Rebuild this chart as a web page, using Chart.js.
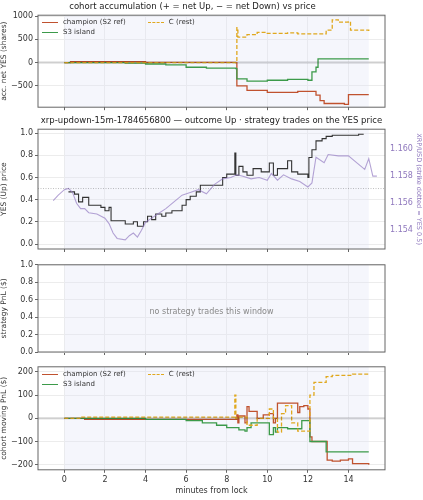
<!DOCTYPE html>
<html>
<head>
<meta charset="utf-8">
<script src="https://cdn.jsdelivr.net/npm/chart.js@4"></script>
<style>
  body { margin: 0; background: #fff; font-family: "DejaVu Sans", sans-serif; }
  #wrap { position: relative; width: 423px; height: 500px; }
  .panel { position: absolute; left: 0; width: 423px; }
  .legend { position: absolute; font-size: 7px; color: #333; line-height: 10px; }
  .legend span.sw { display: inline-block; width: 16px; height: 0; vertical-align: middle; margin-right: 5px; }
  .note { position: absolute; font-size: 8px; color: #888; width: 347px; text-align: center; }
</style>
</head>
<body>
<div id="wrap">
  <div class="panel" style="top:0;height:114px"><canvas id="c1"></canvas></div>
  <div class="panel" style="top:114px;height:144px"><canvas id="c2"></canvas></div>
  <div class="panel" style="top:258px;height:102px"><canvas id="c3"></canvas></div>
  <div class="panel" style="top:360px;height:140px"><canvas id="c4"></canvas></div>
  <div class="legend" style="left:42px;top:17px">
    <div><span class="sw" style="border-top:1.5px solid #c0522f"></span>champion (S2 ref)<span style="display:inline-block;width:22px"></span><span class="sw" style="border-top:1.5px dashed #e0a81e"></span>C (rest)</div>
    <div><span class="sw" style="border-top:1.5px solid #3c9a4a"></span>S3 island</div>
  </div>
  <div class="legend" style="left:42px;top:369px">
    <div><span class="sw" style="border-top:1.5px solid #c0522f"></span>champion (S2 ref)<span style="display:inline-block;width:22px"></span><span class="sw" style="border-top:1.5px dashed #e0a81e"></span>C (rest)</div>
    <div><span class="sw" style="border-top:1.5px solid #3c9a4a"></span>S3 island</div>
  </div>
  <div class="note" style="left:38px;top:307px">no strategy trades this window</div>
</div>
<script>
// 共通のX範囲（ロックからの分）
const xMin = -1.3, xMax = 15.8;
const xTicks = [0, 2, 4, 6, 8, 10, 12, 14];

// パネル1: 累積ネットYES（shares）
const champShareT = [0, 0.3, 4, 8.45, 8.5, 9, 10, 11.5, 12.4, 12.6, 12.8, 13.8, 14.0, 15];
const champShares = [0, 20, 5, 0, -500, -600, -640, -620, -700, -820, -880, -900, -690, -690];
const s3ShareT = [0, 3, 4, 5, 6, 7, 8.45, 8.5, 9, 10, 11, 12, 12.2, 12.4, 12.5, 15];
const s3Shares = [0, -10, -30, -50, -100, -120, -130, -350, -400, -380, -360, -380, -200, -100, 80, 80];
const cShareT = [0, 8.45, 8.5, 8.55, 9, 9.5, 10, 11, 11.5, 12.7, 12.9, 13.2, 13.5, 14, 14.1, 15];
const cShares = [0, 0, 750, 550, 600, 650, 630, 640, 620, 620, 700, 920, 870, 880, 700, 680];

// パネル2: YES価格とXRP/USD
const yesT = [0.2, 0.5, 0.7, 0.9, 1.2, 1.8, 2.0, 2.2, 2.3, 3.0, 3.4, 3.6, 3.9, 4.1, 4.3, 4.5, 4.8, 5.0, 5.3, 5.8, 6.0, 6.2, 6.5, 6.7, 7.8, 8.0, 8.4, 8.45, 8.6, 8.8, 9.0, 9.3, 9.7, 10.1, 10.3, 10.5, 11.0, 11.2, 11.5, 12.0, 12.05, 12.2, 12.4, 12.7, 12.9, 13.2, 14.0, 14.5, 14.75];
const yesPrice = [0.47, 0.45, 0.38, 0.42, 0.35, 0.33, 0.30, 0.33, 0.21, 0.18, 0.20, 0.16, 0.20, 0.25, 0.22, 0.27, 0.25, 0.28, 0.30, 0.35, 0.40, 0.43, 0.47, 0.53, 0.60, 0.63, 0.82, 0.62, 0.70, 0.65, 0.62, 0.68, 0.65, 0.73, 0.62, 0.68, 0.75, 0.65, 0.63, 0.60, 0.78, 0.85, 0.93, 0.95, 0.97, 0.98, 0.98, 0.99, 0.99];
const xrpT = [-0.55, -0.3, 0, 0.2, 0.4, 0.6, 0.8, 1.0, 1.2, 1.6, 2.0, 2.2, 2.4, 2.6, 3.0, 3.2, 3.4, 3.6, 3.8, 4.0, 4.3, 4.6, 5.0, 5.4, 5.8, 6.2, 6.6, 7.0, 7.4, 7.8, 8.2, 8.5, 8.8, 9.2, 9.6, 10.0, 10.2, 10.5, 10.8, 11.2, 11.6, 12.0, 12.2, 12.4, 12.8, 13.0, 13.5, 14.0, 14.4, 14.8, 15.0, 15.2, 15.4];
const xrpPrice = [1.1562, 1.1566, 1.1570, 1.1571, 1.1568, 1.1560, 1.1556, 1.1556, 1.1553, 1.1552, 1.1549, 1.1545, 1.1538, 1.1534, 1.1533, 1.1536, 1.1538, 1.1535, 1.1540, 1.1546, 1.1549, 1.1552, 1.1556, 1.1561, 1.1566, 1.1568, 1.1570, 1.1567, 1.1574, 1.1578, 1.1579, 1.1581, 1.1580, 1.1578, 1.1579, 1.1577, 1.1582, 1.1577, 1.1581, 1.1578, 1.1576, 1.1572, 1.1575, 1.1594, 1.1590, 1.1596, 1.1595, 1.1595, 1.1590, 1.1585, 1.1593, 1.1580, 1.1580];
const strikeYes = 0.5;

// パネル4: コホートの含み損益（$）
const champPnlT = [0, 1, 8.45, 8.5, 8.55, 8.6, 8.9, 9.0, 9.1, 9.5, 9.8, 10.1, 10.3, 10.4, 10.5, 11.5, 11.6, 11.8, 12.0, 12.1, 12.2, 12.95, 13.2, 13.6, 14.0, 14.2, 15];
const champPnl = [0, -5, -5, 15, -20, 10, -20, 50, 30, 0, 15, 20, -20, 0, 65, 25, 50, 55, 40, -80, -100, -180, -185, -180, -175, -195, -200];
const s3PnlT = [0, 4, 6, 6.8, 7.5, 8.0, 8.6, 8.9, 9.0, 9.2, 10.1, 10.3, 10.4, 10.5, 11.0, 11.7, 12.1, 12.9, 15];
const s3Pnl = [0, -5, -10, -20, -30, -40, -50, -55, -40, -20, -70, -40, -60, -40, -45, -10, -100, -145, -145];
const cPnlT = [0, 0.8, 8.4, 8.45, 8.5, 9.0, 9.5, 10.1, 10.3, 10.5, 10.7, 10.9, 11.2, 11.5, 12.0, 12.1, 12.3, 12.9, 13.2, 14.2, 15];
const cPnl = [0, 5, 100, 0, 5, -30, 0, 40, 0, -60, 20, 55, -20, -55, -55, 100, 155, 180, 185, 190, 195];

const champColor = '#c0522f', s3Color = '#3c9a4a', cColor = '#e0a81e';
const font = { family: 'DejaVu Sans', size: 8 };
Chart.defaults.font.family = 'DejaVu Sans';
Chart.defaults.color = '#333';
Chart.defaults.animation = false;

const pts = (ts, vs) => ts.map((t, i) => ({ x: t, y: vs[i] }));

// ロック区間(0〜15分)の背景と枠線
const frame = {
  id: 'frame',
  beforeDatasetsDraw(chart) {
    const { ctx, chartArea: a, scales } = chart;
    const x0 = scales.x.getPixelForValue(0), x1 = scales.x.getPixelForValue(15);
    ctx.save();
    ctx.fillStyle = 'rgba(225,230,245,0.35)';
    ctx.fillRect(x0, a.top, x1 - x0, a.bottom - a.top);
    ctx.restore();
  },
  afterDraw(chart) {
    const { ctx, chartArea: a } = chart;
    ctx.save();
    ctx.strokeStyle = '#666';
    ctx.lineWidth = 1;
    ctx.strokeRect(a.left, a.top, a.right - a.left, a.bottom - a.top);
    ctx.restore();
  }
};

function xScale(showLabels) {
  return {
    type: 'linear', min: xMin, max: xMax,
    afterBuildTicks: s => { s.ticks = xTicks.map(v => ({ value: v })); },
    grid: { color: '#ececec', tickLength: 3, tickColor: '#666' },
    border: { display: false },
    ticks: { display: showLabels, font, color: '#333', padding: 2, maxRotation: 0 },
    title: { display: showLabels, text: 'minutes from lock', font: { size: 8 }, padding: 0 }
  };
}

function yScale(min, max, ticks, label, decimals) {
  return {
    type: 'linear', min, max,
    afterBuildTicks: s => { s.ticks = ticks.map(v => ({ value: v })); },
    afterFit: s => { s.width = 38; },
    grid: { color: '#ececec', tickLength: 3, tickColor: '#666' },
    border: { display: false },
    ticks: { font, color: '#333', padding: 2, callback: v => (v < 0 ? '−' : '') + Math.abs(v).toFixed(decimals || 0) },
    title: { display: true, text: label, font: { size: 7.5 }, padding: 0 }
  };
}

function stepLine(data, color, dashed, extra) {
  return Object.assign({
    data, showLine: true, borderColor: color, borderWidth: 1.3, stepped: true,
    borderDash: dashed ? [4, 2] : [], pointRadius: 0, fill: false
  }, extra || {});
}

function baseOptions(title, scales, padBottom) {
  return {
    responsive: true, maintainAspectRatio: false,
    layout: { padding: { left: 0, right: 38, top: 0, bottom: padBottom } },
    plugins: {
      legend: { display: false }, tooltip: { enabled: false },
      title: title ? { display: true, text: title, font: { size: 8.5, weight: 'normal' }, color: '#222', padding: { top: 2, bottom: 3 } } : { display: false }
    },
    scales
  };
}

// パネル1
new Chart(document.getElementById('c1'), {
  type: 'scatter',
  data: { datasets: [
    stepLine(pts([xMin, xMax], [0, 0]), 'rgba(0,0,0,0.12)', false, { borderWidth: 2.5, stepped: false }),
    stepLine(pts(cShareT, cShares), cColor, true),
    stepLine(pts(s3ShareT, s3Shares), s3Color, false),
    stepLine(pts(champShareT, champShares), champColor, false)
  ] },
  options: baseOptions('cohort accumulation (+ = net Up, − = net Down) vs price', {
    x: xScale(false),
    y: yScale(-960, 1020, [-500, 0, 500, 1000], 'acc. net YES (shares)')
  }, 2),
  plugins: [frame]
});

// パネル2
const opt2 = baseOptions('xrp-updown-15m-1784656800 — outcome Up · strategy trades on the YES price', {
  x: xScale(false),
  y: yScale(-0.045, 1.035, [0, 0.2, 0.4, 0.6, 0.8, 1.0], 'YES (Up) price', 1),
  y1: {
    type: 'linear', position: 'right', min: 1.15262, max: 1.16147,
    afterBuildTicks: s => { s.ticks = [1.154, 1.156, 1.158, 1.160].map(v => ({ value: v })); },
    afterFit: s => { s.width = 38; },
    grid: { display: false, tickLength: 3, tickColor: '#9a85c0' },
    border: { display: false },
    ticks: { font, color: '#8f78bd', padding: 2, callback: v => v.toFixed(3) },
    title: { display: true, text: 'XRP/USD (strike dotted = YES 0.5)', font: { size: 6.5 }, color: '#8f78bd', padding: 0 }
  }
}, 6);
opt2.layout.padding.right = 0;
new Chart(document.getElementById('c2'), {
  type: 'scatter',
  data: { datasets: [
    stepLine(pts([xMin, xMax], [strikeYes, strikeYes]), 'rgba(0,0,0,0.25)', false, { borderDash: [1, 1.5], borderWidth: 1, stepped: false }),
    stepLine(pts(xrpT, xrpPrice), 'rgba(150,125,195,0.7)', false, { yAxisID: 'y1', stepped: false, borderWidth: 1.1 }),
    stepLine(pts(yesT, yesPrice), '#333', false, { borderWidth: 1.1 })
  ] },
  options: opt2,
  plugins: [frame]
});

// パネル3（取引なし）
new Chart(document.getElementById('c3'), {
  type: 'scatter',
  data: { datasets: [{ data: [] }] },
  options: baseOptions(null, {
    x: xScale(false),
    y: yScale(0, 1.0, [0, 0.2, 0.4, 0.6, 0.8, 1.0], 'strategy PnL ($)', 1)
  }, 5),
  plugins: [frame]
});

// パネル4
new Chart(document.getElementById('c4'), {
  type: 'scatter',
  data: { datasets: [
    stepLine(pts([xMin, xMax], [0, 0]), 'rgba(0,0,0,0.12)', false, { borderWidth: 2.5, stepped: false }),
    stepLine(pts(cPnlT, cPnl), cColor, true),
    stepLine(pts(s3PnlT, s3Pnl), s3Color, false),
    stepLine(pts(champPnlT, champPnl), champColor, false)
  ] },
  options: baseOptions(null, {
    x: xScale(true),
    y: yScale(-222, 222, [-200, -100, 0, 100, 200], 'cohort moving PnL ($)')
  }, 4),
  plugins: [frame]
});
</script>
</body>
</html>
